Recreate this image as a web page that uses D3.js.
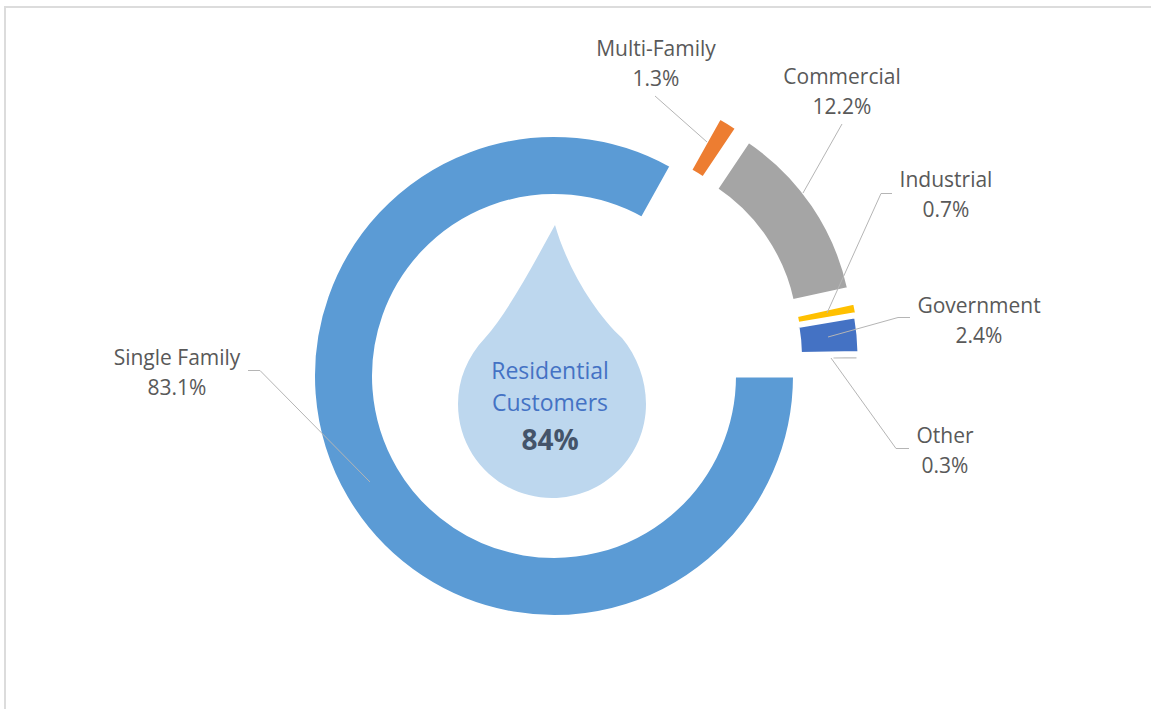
<!DOCTYPE html>
<html><head><meta charset="utf-8">
<script src="https://cdn.jsdelivr.net/npm/d3@7/dist/d3.min.js"></script>
<style>html,body{margin:0;padding:0;background:#fff}svg{display:block}text{font-family:"Open Sans",sans-serif}</style>
</head><body><svg id="c" width="1151" height="709"></svg>
<script>
const categories = ["Single Family","Multi-Family","Commercial","Industrial","Government","Other"];
const shares = [83.1,1.3,12.2,0.7,2.4,0.3];
const colors = ["#5b9bd5","#ed7d31","#a5a5a5","#ffc000","#4472c4","#bdbdbd"];
const explodeX = [0,48.6,62,66,66,64];
const explodeY = [0,-48,-37,-22,-19,-16];
const outerRadii = [240.5,240.5,238,240,239,240];
const innerRadii = [180.5,180.5,180.5,180.5,180.5,214];
const labelX = [177,656,842,946,979,945];
const labelY = [358,49,77,180,306,436];
const leaders = [
  [[248,370.5],[260,370.5],[370,482]],
  [[655,96],[707,142]],
  [[842,124],[803,193]],
  [[892,193.5],[881,193.5],[827,313]],
  [[910,317.5],[898,317.5],[828,337]],
  [[909,448.5],[896,448.5],[831,358]]
];
const cx=554, cy=376;
const svg=d3.select("#c");
svg.append("path").attr("d","M5 709V7H1151").attr("fill","none").attr("stroke","#dcdcdc").attr("stroke-width",2);
const pie=d3.pie().sort(null).startAngle(Math.PI/2).endAngle(Math.PI*2.5);
const arc=d3.arc().innerRadius((d,i)=>innerRadii[i]).outerRadius((d,i)=>outerRadii[i]);
svg.append("g").attr("transform",`translate(${cx},${cy})`).selectAll("path").data(pie(shares)).join("path")
 .attr("d",arc).attr("fill",(d,i)=>colors[i]).attr("stroke","#fff").attr("stroke-width",3)
 .attr("transform",(d,i)=>`translate(${explodeX[i]},${explodeY[i]})`);
const line=d3.line();
svg.append("g").selectAll("path").data(leaders).join("path").attr("d",line).attr("fill","none").attr("stroke","#b5b5b5").attr("stroke-width",1);
const lab=svg.append("g").selectAll("text").data(categories).join("text").attr("text-anchor","middle").attr("fill","#595959").attr("font-size",21);
lab.append("tspan").attr("x",(d,i)=>labelX[i]).attr("y",(d,i)=>labelY[i]+7).text(d=>d);
lab.append("tspan").attr("x",(d,i)=>labelX[i]).attr("y",(d,i)=>labelY[i]+37).text((d,i)=>shares[i].toFixed(1)+"%");
const p=d3.path();
p.moveTo(555,225);
p.bezierCurveTo(533,265,508,312,485,338);
p.bezierCurveTo(467,357,458,380,458,404);
p.bezierCurveTo(458,456,500,498,552,498);
p.bezierCurveTo(604,498,646,456,646,404);
p.bezierCurveTo(646,380,637,356,622,338);
p.bezierCurveTo(596,314,568,270,555,225);
p.closePath();
svg.append("path").attr("d",p.toString()).attr("fill","#bdd7ee");
svg.append("text").attr("x",550).attr("y",379).attr("text-anchor","middle").attr("font-size",23).attr("fill","#4472c4").text("Residential");
svg.append("text").attr("x",550).attr("y",411).attr("text-anchor","middle").attr("font-size",23).attr("fill","#4472c4").text("Customers");
svg.append("text").attr("x",550).attr("y",450).attr("text-anchor","middle").attr("font-size",28).attr("font-weight",700).attr("fill","#44546a").text("84%");
</script></body></html>
